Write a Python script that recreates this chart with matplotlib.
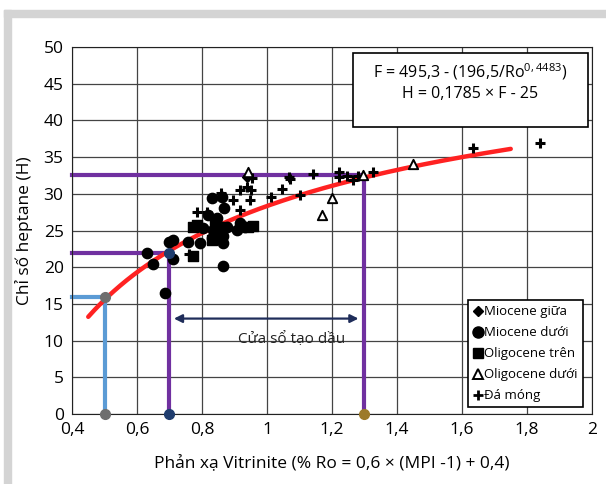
import numpy as np
import matplotlib
matplotlib.use('Agg')
import matplotlib.pyplot as plt
from matplotlib.lines import Line2D
from matplotlib.patches import Rectangle

plt.rcParams['font.family'] = ['Open Sans', 'DejaVu Sans']
plt.rcParams['mathtext.fontset'] = 'custom'
plt.rcParams['mathtext.rm'] = 'Open Sans'
plt.rcParams['mathtext.it'] = 'Open Sans'

# data
mio_giua_x = [0.94]
mio_giua_y = [32.3]

mio_duoi_x = [0.632, 0.648, 0.71, 0.71, 0.70, 0.758, 0.794, 0.866, 0.866, 0.83, 0.862, 0.869,
              0.82, 0.845, 0.804, 0.835, 0.855, 0.876, 0.845, 0.83, 0.866, 0.917, 0.909, 0.932, 0.686]
mio_duoi_y = [21.9, 20.5, 21.1, 23.7, 23.5, 23.4, 23.3, 20.2, 23.3, 29.4, 29.6, 28.0,
              27.1, 26.7, 25.3, 25.1, 25.5, 25.5, 24.0, 24.0, 24.2, 26.0, 25.1, 25.5, 16.5]

oligo_tren_x = [0.773, 0.773, 0.784, 0.84, 0.866, 0.958, 0.943, 0.85, 0.83]
oligo_tren_y = [21.5, 25.5, 25.8, 25.8, 25.5, 25.6, 25.5, 24.6, 23.7]

oligo_duoi_x = [0.942, 1.199, 1.168, 1.296, 1.448]
oligo_duoi_y = [33.0, 29.4, 27.1, 32.5, 34.0]

da_mong_x = [0.784, 0.814, 0.86, 0.896, 0.917, 0.917, 0.937, 0.95, 0.948, 0.942, 0.953, 1.011,
             1.045, 1.069, 1.07, 1.102, 1.142, 1.222, 1.222, 1.245, 1.264, 1.281, 1.327,
             1.635, 1.84, 0.76]
da_mong_y = [27.5, 27.5, 30.1, 29.1, 27.8, 30.5, 30.9, 30.5, 29.2, 32.4, 32.1, 29.6,
             30.6, 32.3, 32.0, 29.9, 32.7, 33.0, 32.3, 32.4, 31.9, 32.4, 33.0,
             36.2, 36.9, 21.8]

# fitted curve: F = 495,3 - (196,5/Ro^0,4483), H = 0,1785 x F - 25
fa, fb, fc = 495.3, 196.5, 0.4483
ha, hb = 0.1785, 25
curve_ro = np.linspace(0.45, 1.75, 200)
curve_h = ha * (fa - fb / curve_ro ** fc) - hb

# reference cut-offs (Ro, H)
ref_blue = (0.5, 16)
ref_lo = (0.7, 22)
ref_hi = (1.3, 32.5)

fig = plt.figure(figsize=(6.06, 4.84), dpi=100)
# grey frame
fig.patches.append(Rectangle((4/606, 0), 7/606, 1 - 10/484, transform=fig.transFigure,
                             color='#d4d4d4', zorder=0))
fig.patches.append(Rectangle((4/606, 1 - 17/484), 1, 7/484, transform=fig.transFigure,
                             color='#d4d4d4', zorder=0))

ax = fig.add_axes([72/606, 70/484, 520/606, 367/484])
ax.set_xlim(0.4, 2)
ax.set_ylim(0, 50)
ax.set_xticks(np.arange(0.4, 2.01, 0.2))
ax.set_yticks(np.arange(0, 51, 5))
ax.set_xticklabels(['0,4', '0,6', '0,8', '1', '1,2', '1,4', '1,6', '1,8', '2'])
ax.grid(True, color='#444444', lw=0.9)
ax.set_axisbelow(True)
for s in ax.spines.values():
    s.set_color('#222222')
ax.tick_params(length=0, labelsize=12.5, pad=6)

# reference lines
purple = '#7030a0'
blue = '#5b9bd5'
ax.plot([0.4, ref_blue[0], ref_blue[0]], [ref_blue[1], ref_blue[1], 0], color=blue, lw=3, zorder=2, clip_on=False)
ax.plot([0.4, ref_lo[0], ref_lo[0]], [ref_lo[1], ref_lo[1], 0], color=purple, lw=3, zorder=2, clip_on=False)
ax.plot([0.4, ref_hi[0], ref_hi[0]], [ref_hi[1], ref_hi[1], 0], color=purple, lw=3, zorder=2, clip_on=False)

ax.plot(curve_ro, curve_h, color='#ff2222', lw=3.2, solid_capstyle='round', zorder=3)

# data points
ax.scatter(mio_duoi_x, mio_duoi_y, marker='o', s=55, color='black', zorder=4)
ax.scatter(oligo_tren_x, oligo_tren_y, marker='s', s=50, color='black', zorder=4)
ax.scatter(mio_giua_x, mio_giua_y, marker='D', s=25, color='black', zorder=4)
ax.scatter(da_mong_x, da_mong_y, marker='+', s=50, color='black', linewidths=2.2, zorder=5)
ax.scatter(oligo_duoi_x, oligo_duoi_y, marker='^', s=45, facecolor='white', edgecolor='black',
           linewidths=1.4, zorder=5)

# marker dots on cut-offs
ax.plot([ref_blue[0], ref_blue[0]], [ref_blue[1], 0], 'o', color='#6e6e6e', ms=7, zorder=6, clip_on=False)
ax.plot([ref_lo[0], ref_lo[0]], [ref_lo[1], 0], 'o', color='#1f3d6e', ms=7, zorder=6, clip_on=False)
ax.plot([ref_hi[0]], [0], 'o', color='#9c7a2a', ms=7, zorder=6, clip_on=False)

# oil window arrow
ax.annotate('', xy=(0.705, 13), xytext=(1.29, 13),
            arrowprops=dict(arrowstyle='<|-|>', color='#1f2d5a', lw=1.6, mutation_scale=12), zorder=6)
ax.text(1.075, 10.2, 'Cửa sổ tạo dầu', ha='center', va='center', fontsize=11, color='#222222')

# equation box
ax.add_patch(Rectangle((1.265, 39.1), 0.723, 10.1, facecolor='white', edgecolor='black', lw=1.2, zorder=7))
ax.text(1.625, 46.7, 'F = 495,3 - (196,5/Ro$^{0,4483}$)', ha='center', va='center', fontsize=11.5, zorder=8)
ax.text(1.625, 43.6, 'H = 0,1785 × F - 25', ha='center', va='center', fontsize=11.5, zorder=8)

handles = [
    Line2D([], [], marker='D', color='black', ls='', ms=5),
    Line2D([], [], marker='o', color='black', ls='', ms=8),
    Line2D([], [], marker='s', color='black', ls='', ms=7.5),
    Line2D([], [], marker='^', markerfacecolor='white', markeredgecolor='black', markeredgewidth=1.4, ls='', ms=7),
    Line2D([], [], marker='+', color='black', ls='', ms=7, markeredgewidth=2),
]
labels = ['Miocene giữa', 'Miocene dưới', 'Oligocene trên', 'Oligocene dưới', 'Đá móng']
leg = ax.legend(handles, labels, loc='lower right', bbox_to_anchor=(0.995, 0.0), fontsize=9.5,
                handlelength=0.6, handletextpad=0.2, labelspacing=0.6, borderpad=0.4,
                fancybox=False, framealpha=1, edgecolor='black')
leg.get_frame().set_linewidth(1.2)
leg.set_zorder(9)

ax.set_xlabel('Phản xạ Vitrinite (% Ro = 0,6 × (MPI -1) + 0,4)', fontsize=12.5, labelpad=12)
ax.set_ylabel('Chỉ số heptane (H)', fontsize=12.5, labelpad=8)

plt.savefig('out.png', dpi=100)
